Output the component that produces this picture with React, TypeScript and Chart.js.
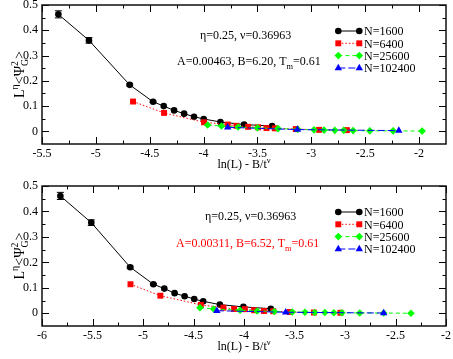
import React, { useEffect, useRef } from "react";
import { Chart, registerables } from "chart.js";

Chart.register(...registerables);

const FONT = "'Liberation Serif', 'Times New Roman', Times, serif";

// ---------- tick labels ----------
const TOP_X_TICKS = [-5.5, -5, -4.5, -4, -3.5, -3, -2.5, -2];
const BOTTOM_X_TICKS = [-6, -5.5, -5, -4.5, -4, -3.5, -3, -2.5, -2];
const Y_TICKS = [0, 0.1, 0.2, 0.3, 0.4, 0.5];

// ---------- series names ----------
const SERIES_LABELS = ["N=1600", "N=6400", "N=25600", "N=102400"];

// ---------- top panel (A=0.00463, B=6.20) ----------
const topN1600X = [-5.348, -5.064, -4.686, -4.469, -4.37, -4.274, -4.181, -4.089, -3.999, -3.844, -3.624, -3.364];
const topN1600Y = [0.463, 0.36, 0.184, 0.117, 0.1, 0.083, 0.07, 0.058, 0.049, 0.037, 0.027, 0.021];
const topN1600Err = [0.014, 0.011, 0.004, 0.003, 0, 0, 0, 0, 0, 0, 0, 0];
const topN6400X = [-4.655, -4.367, -3.996, -3.776, -3.695, -3.587, -3.494, -3.416, -3.339, -3.144, -2.928, -2.67];
const topN6400Y = [0.118, 0.073, 0.036, 0.027, 0.022, 0.018, 0.016, 0.013, 0.012, 0.009, 0.006, 0.005];
const topN25600X = [-3.962, -3.834, -3.68, -3.5, -3.309, -3.126, -2.975, -2.882, -2.782, -2.699, -2.612, -2.457, -2.241, -1.972];
const topN25600Y = [0.025, 0.021, 0.017, 0.014, 0.011, 0.008, 0.006, 0.005, 0.004, 0.004, 0.003, 0.002, 0.002, 0.001];
const topN102400X = [-3.776, -3.129, -2.188];
const topN102400Y = [0.016, 0.007, 0.003];

// ---------- bottom panel (A=0.00311, B=6.52) ----------
const botN1600X = [-5.818, -5.512, -5.127, -4.897, -4.789, -4.687, -4.588, -4.493, -4.404, -4.239, -4.006, -3.735];
const botN1600Y = [0.461, 0.356, 0.181, 0.114, 0.097, 0.079, 0.067, 0.056, 0.047, 0.034, 0.025, 0.018];
const botN1600Err = [0.014, 0.011, 0.004, 0.003, 0, 0, 0, 0, 0, 0, 0, 0];
const botN6400X = [-5.124, -4.828, -4.427, -4.204, -4.098, -3.992, -3.9, -3.802, -3.71, -3.545, -3.308, -3.045];
const botN6400Y = [0.114, 0.069, 0.033, 0.022, 0.017, 0.016, 0.012, 0.009, 0.008, 0.005, 0.003, 0.002];
const botN25600X = [-4.436, -4.3, -4.039, -3.87, -3.7, -3.522, -3.397, -3.3, -3.2, -3.11, -3.03, -2.854, -2.617, -2.347];
const botN25600Y = [0.022, 0.017, 0.012, 0.009, 0.007, 0.005, 0.004, 0.003, 0.003, 0.002, 0.002, 0.001, 0.001, 0.0];
const botN102400X = [-4.269, -3.587, -2.617];
const botN102400Y = [0.01, 0.004, 0.001];

type Seg = { t?: string; sup?: string; sub?: string };

const STYLES = [
  { color: "#000000", point: "circle", radius: 3.3, dash: [] as number[] },
  { color: "#ff0000", point: "rect", radius: 4.2, dash: [1.5, 2] },
  { color: "#00ff00", point: "rectRot", radius: 3.8, dash: [4, 3] },
  { color: "#0000ff", point: "triangle", radius: 4.3, dash: [7, 3] },
];

function segWidth(ctx: CanvasRenderingContext2D, segs: Seg[], size: number) {
  let w = 0;
  for (const s of segs) {
    if (s.t) {
      ctx.font = `${size}px ${FONT}`;
      w += ctx.measureText(s.t).width;
    }
    ctx.font = `${size * 0.7}px ${FONT}`;
    const a = s.sup ? ctx.measureText(s.sup).width : 0;
    const b = s.sub ? ctx.measureText(s.sub).width : 0;
    w += Math.max(a, b);
  }
  return w;
}

function drawRich(
  ctx: CanvasRenderingContext2D,
  segs: Seg[],
  x: number,
  yMid: number,
  size: number,
  color: string,
  align: "left" | "center"
) {
  const w = segWidth(ctx, segs, size);
  let cx = align === "center" ? x - w / 2 : x;
  const base = yMid + size * 0.35;
  ctx.fillStyle = color;
  ctx.textAlign = "left";
  ctx.textBaseline = "alphabetic";
  for (const s of segs) {
    if (s.t) {
      ctx.font = `${size}px ${FONT}`;
      ctx.fillText(s.t, cx, base);
      cx += ctx.measureText(s.t).width;
    }
    ctx.font = `${size * 0.7}px ${FONT}`;
    let adv = 0;
    if (s.sup) {
      ctx.fillText(s.sup, cx, base - size * 0.45);
      adv = Math.max(adv, ctx.measureText(s.sup).width);
    }
    if (s.sub) {
      ctx.fillText(s.sub, cx, base + size * 0.3);
      adv = Math.max(adv, ctx.measureText(s.sub).width);
    }
    cx += adv;
  }
}

function drawMarker(ctx: CanvasRenderingContext2D, kind: string, x: number, y: number, r: number, color: string) {
  ctx.fillStyle = color;
  ctx.beginPath();
  if (kind === "circle") {
    ctx.arc(x, y, r, 0, Math.PI * 2);
  } else if (kind === "rect") {
    const s = Math.SQRT1_2 * r;
    ctx.rect(x - s, y - s, 2 * s, 2 * s);
  } else if (kind === "rectRot") {
    ctx.moveTo(x - r, y);
    ctx.lineTo(x, y - r);
    ctx.lineTo(x + r, y);
    ctx.lineTo(x, y + r);
    ctx.closePath();
  } else {
    ctx.moveTo(x, y - r);
    ctx.lineTo(x + r * Math.sin((2 * Math.PI) / 3), y - r * Math.cos((2 * Math.PI) / 3));
    ctx.lineTo(x + r * Math.sin((4 * Math.PI) / 3), y - r * Math.cos((4 * Math.PI) / 3));
    ctx.closePath();
  }
  ctx.fill();
}

type Panel = {
  xMin: number;
  xMax: number;
  xTicks: number[];
  xs: number[][];
  ys: number[][];
  err: number[];
  padTop: number;
  xAxisH: number;
  ann1: { x: number; y: number };
  ann2: { x: number; y: number; color: string; segs: Seg[] };
};

function makePlugin(panel: Panel) {
  return {
    id: "xmgraceDecor",
    beforeDatasetsDraw(chart: any) {
      const { ctx, scales } = chart;
      const xs = scales.x;
      const ys = scales.y;
      ctx.save();
      ctx.strokeStyle = "#000";
      ctx.lineWidth = 1;
      panel.err.forEach((e, i) => {
        if (!e) return;
        const px = xs.getPixelForValue(panel.xs[0][i]);
        const y1 = ys.getPixelForValue(panel.ys[0][i] - e);
        const y2 = ys.getPixelForValue(panel.ys[0][i] + e);
        ctx.beginPath();
        ctx.moveTo(px, y1);
        ctx.lineTo(px, y2);
        ctx.moveTo(px - 3.5, y1);
        ctx.lineTo(px + 3.5, y1);
        ctx.moveTo(px - 3.5, y2);
        ctx.lineTo(px + 3.5, y2);
        ctx.stroke();
      });
      ctx.restore();
    },
    afterDraw(chart: any) {
      const { ctx, chartArea: a, scales } = chart;
      const xs = scales.x;
      const ys = scales.y;
      ctx.save();
      // inward ticks
      ctx.strokeStyle = "#000";
      ctx.lineWidth = 1;
      const xMaj = panel.xTicks;
      const xMin: number[] = [];
      for (let i = 0; i < xMaj.length - 1; i++) xMin.push((xMaj[i] + xMaj[i + 1]) / 2);
      const yMin: number[] = [];
      for (let i = 0; i < Y_TICKS.length - 1; i++) yMin.push((Y_TICKS[i] + Y_TICKS[i + 1]) / 2);
      ctx.beginPath();
      const xt = (v: number, len: number) => {
        const p = Math.round(xs.getPixelForValue(v)) + 0.5;
        ctx.moveTo(p, a.bottom);
        ctx.lineTo(p, a.bottom - len);
        ctx.moveTo(p, a.top);
        ctx.lineTo(p, a.top + len);
      };
      const yt = (v: number, len: number) => {
        const p = Math.round(ys.getPixelForValue(v)) + 0.5;
        ctx.moveTo(a.left, p);
        ctx.lineTo(a.left + len, p);
        ctx.moveTo(a.right, p);
        ctx.lineTo(a.right - len, p);
      };
      xMaj.forEach((v) => xt(v, 7));
      xMin.forEach((v) => xt(v, 3.5));
      Y_TICKS.forEach((v) => yt(v, 7));
      yMin.forEach((v) => yt(v, 3.5));
      ctx.stroke();
      // frame
      ctx.lineWidth = 1.5;
      ctx.strokeStyle = "#111";
      ctx.strokeRect(a.left, a.top, a.right - a.left, a.bottom - a.top);

      // legend
      const rows = [26, 38.3, 50.6, 63];
      STYLES.forEach((st, i) => {
        const y = a.top + rows[i];
        ctx.strokeStyle = st.color;
        ctx.lineWidth = 1;
        ctx.setLineDash(st.dash);
        ctx.beginPath();
        ctx.moveTo(338.3, y);
        ctx.lineTo(359.3, y);
        ctx.stroke();
        ctx.setLineDash([]);
        drawMarker(ctx, st.point, 338.3, y, st.radius, st.color);
        drawMarker(ctx, st.point, 359.3, y, st.radius, st.color);
        drawRich(ctx, [{ t: SERIES_LABELS[i] }], 364, y, 12, "#000", "left");
      });

      // annotations
      drawRich(ctx, [{ t: "η=0.25, ν=0.36963" }], panel.ann1.x, panel.ann1.y, 12, "#000", "left");
      drawRich(ctx, panel.ann2.segs, panel.ann2.x, panel.ann2.y, 12, panel.ann2.color, "left");

      // x title
      drawRich(ctx, [{ t: "ln(L) - B/t", sup: "ν" }], (a.left + a.right) / 2, a.bottom + 20, 12, "#000", "center");

      // y title
      ctx.save();
      ctx.translate(19, (a.top + a.bottom) / 2);
      ctx.rotate(-Math.PI / 2);
      drawRich(ctx, [{ t: "L", sup: "η" }, { t: "<Ψ", sub: "G", sup: "2" }, { t: ">" }], 0, 0, 14, "#000", "center");
      ctx.restore();

      ctx.restore();
    },
  };
}

function makeConfig(panel: Panel, xTicks: number[]) {
  const datasets = STYLES.map((st, i) => ({
    label: SERIES_LABELS[i],
    data: panel.xs[i].map((x, j) => ({ x, y: panel.ys[i][j] })),
    showLine: true,
    borderColor: st.color,
    backgroundColor: st.color,
    borderWidth: 1,
    borderDash: st.dash,
    pointStyle: st.point,
    pointRadius: st.radius,
    pointBorderWidth: 0,
    pointBackgroundColor: st.color,
    pointBorderColor: st.color,
    tension: 0,
    order: 3 - i,
  }));
  return {
    type: "scatter",
    data: { datasets },
    options: {
      animation: false,
      responsive: false,
      devicePixelRatio: 1,
      layout: { padding: { top: panel.padTop, right: 7, left: 0, bottom: 0 } },
      plugins: { legend: { display: false }, tooltip: { enabled: false } },
      scales: {
        x: {
          type: "linear",
          min: panel.xMin,
          max: panel.xMax,
          afterBuildTicks: (s: any) => {
            s.ticks = xTicks.map((v) => ({ value: v }));
          },
          afterFit: (s: any) => {
            s.height = panel.xAxisH;
            s.paddingLeft = 0;
            s.paddingRight = 0;
            s.paddingTop = 0;
            s.paddingBottom = 0;
          },
          grid: { display: false, drawTicks: false },
          border: { display: false },
          ticks: {
            font: { family: FONT, size: 12 },
            color: "#000",
            padding: 3,
            maxRotation: 0,
            autoSkip: false,
            callback: (v: any) => String(v),
          },
        },
        y: {
          type: "linear",
          min: -0.05,
          max: 0.5,
          afterBuildTicks: (s: any) => {
            s.ticks = Y_TICKS.map((v) => ({ value: v }));
          },
          afterFit: (s: any) => {
            s.width = 42;
            s.paddingLeft = 0;
            s.paddingRight = 0;
            s.paddingTop = 0;
            s.paddingBottom = 0;
          },
          grid: { display: false, drawTicks: false },
          border: { display: false },
          ticks: {
            font: { family: FONT, size: 12 },
            color: "#000",
            padding: 4,
            autoSkip: false,
            callback: (v: any) => String(v),
          },
        },
      },
    },
    plugins: [makePlugin(panel)],
  } as any;
}

const TOP_PANEL: Panel = {
  xMin: -5.5,
  xMax: -1.75,
  xTicks: TOP_X_TICKS,
  xs: [topN1600X, topN6400X, topN25600X, topN102400X],
  ys: [topN1600Y, topN6400Y, topN25600Y, topN102400Y],
  err: topN1600Err,
  padTop: 5,
  xAxisH: 36,
  ann1: { x: 200, y: 35 },
  ann2: { x: 177, y: 61, color: "#000", segs: [{ t: "A=0.00463, B=6.20, T", sub: "m" }, { t: "=0.61" }] },
};

const BOTTOM_PANEL: Panel = {
  xMin: -6,
  xMax: -2,
  xTicks: BOTTOM_X_TICKS,
  xs: [botN1600X, botN6400X, botN25600X, botN102400X],
  ys: [botN1600Y, botN6400Y, botN25600Y, botN102400Y],
  err: botN1600Err,
  padTop: 6,
  xAxisH: 33,
  ann1: { x: 205, y: 36 },
  ann2: { x: 176, y: 62.7, color: "#ff0000", segs: [{ t: "A=0.00311, B=6.52, T", sub: "m" }, { t: "=0.61" }] },
};

export default function App() {
  const topRef = useRef<HTMLCanvasElement>(null);
  const botRef = useRef<HTMLCanvasElement>(null);
  useEffect(() => {
    const c1 = new Chart(topRef.current as HTMLCanvasElement, makeConfig(TOP_PANEL, TOP_X_TICKS));
    const c2 = new Chart(botRef.current as HTMLCanvasElement, makeConfig(BOTTOM_PANEL, BOTTOM_X_TICKS));
    return () => {
      c1.destroy();
      c2.destroy();
    };
  }, []);
  return (
    <div style={{ position: "absolute", left: 0, top: 0, width: 453, height: 359, background: "#fff" }}>
      <canvas ref={topRef} width={453} height={180} style={{ position: "absolute", left: 0, top: 0, width: 453, height: 180 }} />
      <canvas ref={botRef} width={453} height={179} style={{ position: "absolute", left: 0, top: 180, width: 453, height: 179 }} />
    </div>
  );
}
